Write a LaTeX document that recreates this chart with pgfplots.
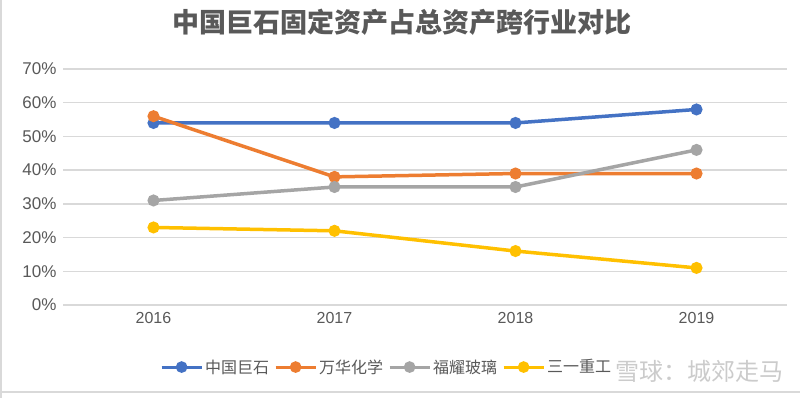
\documentclass[border=0pt]{standalone}
\usepackage{fontspec}
\setmainfont{Liberation Sans}
\newfontfamily\cjk{Noto Sans CJK SC}
\usepackage{pgfplots}
\pgfplotsset{compat=1.18}
\definecolor{cblue}{HTML}{4472C4}
\definecolor{corange}{HTML}{ED7D31}
\definecolor{cgray}{HTML}{A5A5A5}
\definecolor{cyellow}{HTML}{FFC000}
\definecolor{txt}{HTML}{595959}
\definecolor{gridc}{HTML}{D9D9D9}
\begin{document}
\begin{tikzpicture}
\useasboundingbox (0pt,0pt) rectangle (800pt,398pt);
\fill[white] (0pt,0pt) rectangle (800pt,398pt);
\draw[gridc,line width=1.5pt] (0.75pt,0pt) -- (0.75pt,398pt);
\draw[gridc,line width=1.5pt] (0pt,6pt) -- (800pt,6pt);
\node[text=txt,font=\cjk\bfseries\fontsize{27}{31}\selectfont] at (402pt,376pt) {中国巨石固定资产占总资产跨行业对比};
\begin{axis}[
  at={(63pt,93pt)}, anchor=south west,
  scale only axis, width=724pt, height=236pt,
  xmin=-0.5, xmax=3.5, ymin=0, ymax=70,
  xtick={0,1,2,3}, xticklabels={2016,2017,2018,2019},
  ytick={0,10,...,70},
  yticklabel={\pgfmathprintnumber{\tick}\%},
  /pgf/number format/assume math mode=true,
  axis line style={draw=none},
  major tick style={draw=none},
  ymajorgrids, grid style={gridc, line width=1.5pt},
  tick label style={text=txt, font=\fontsize{17}{19}\selectfont},
  xticklabel style={font=\fontsize{16}{18}\selectfont, yshift=-4pt},
  yticklabel style={xshift=-3pt},
  every axis plot/.append style={line width=3.5pt, mark=*, mark size=4.2pt, mark options={solid}},
  legend columns=4,
  legend style={at={(0.447,-0.263)}, anchor=center, draw=none, fill=none,
    font=\cjk\fontsize{16}{18}\selectfont, text=txt,
    /tikz/every even column/.append style={column sep=3pt}},
  legend image code/.code={\draw[#1,line width=3pt] (0pt,0pt) -- (40pt,0pt); \fill[#1] (20pt,0pt) circle (4pt);},
]
\addplot[cblue] coordinates {(0,54) (1,54) (2,54) (3,58)};
\addplot[corange] coordinates {(0,56) (1,38) (2,39) (3,39)};
\addplot[cgray] coordinates {(0,31) (1,35) (2,35) (3,46)};
\addplot[cyellow] coordinates {(0,23) (1,22) (2,16) (3,11)};
\legend{中国巨石,万华化学,福耀玻璃,三一重工}
\end{axis}
\node[anchor=west,text=black!25,opacity=0.8,font=\cjk\fontsize{24}{28}\selectfont] at (612pt,27pt) {雪球：城郊走马};
\end{tikzpicture}
\end{document}
